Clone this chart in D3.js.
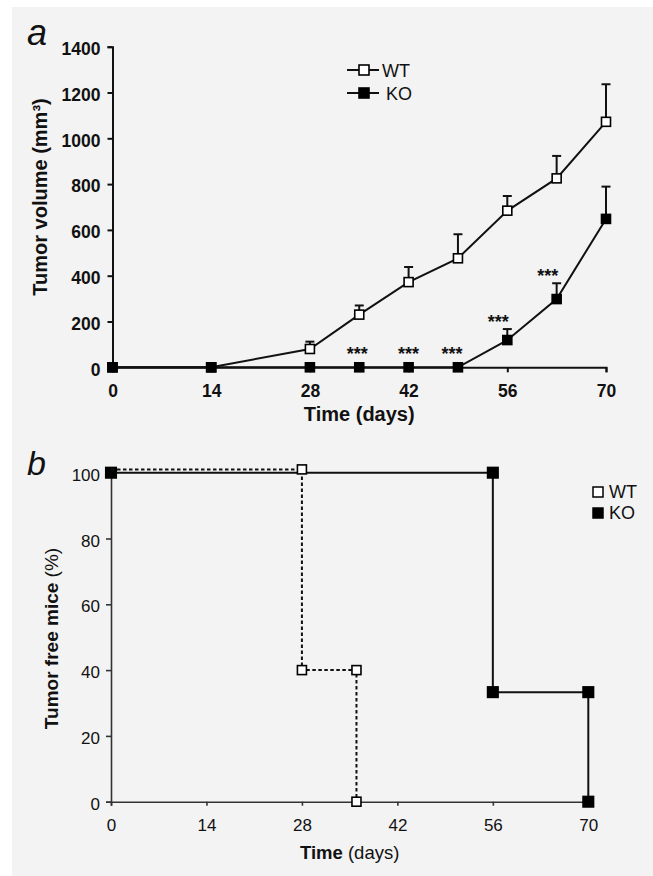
<!DOCTYPE html>
<html><head><meta charset="utf-8">
<script src="https://cdn.jsdelivr.net/npm/d3@7"></script>
<style>
html,body{margin:0;padding:0;background:#fff;}
svg{display:block;font-family:"Liberation Sans",Arial,Helvetica,sans-serif;}
</style></head>
<body>
<svg id="chart" width="653" height="876"></svg>
<script>
// ---------- DATA ----------
// Panel a: tumor volume (mm3) over time (days)
const volDays = [0, 14, 28, 35, 42, 49, 56, 63, 70];
const wtVolume = [0, 0, 80, 230, 372, 476, 684, 825, 1072];
const wtVolumeErr = [0, 0, 32, 40, 66, 105, 64, 98, 164];
const koVolume = [0, 0, 0, 0, 0, 0, 119, 298, 648];
const koVolumeErr = [0, 0, 0, 0, 0, 0, 48, 69, 141];
const sigDays = [35, 42, 49, 56, 63];
const sigLabels = ["***", "***", "***", "***", "***"];
const sigAnchor = [0, 0, 0, 167, 367]; // value (mm3) above which the mark sits
const volXTicks = [0, 14, 28, 42, 56, 70];
const volYTicks = [0, 200, 400, 600, 800, 1000, 1200, 1400];

// Panel b: tumor free mice (%) - step curves
const wtFreeDays = [0, 28, 28, 36, 36];
const wtFreePct = [101, 101, 40, 40, 0];
const wtFreeMarked = [false, true, true, true, true];
const koFreeDays = [0, 56, 56, 70, 70];
const koFreePct = [100, 100, 33.3, 33.3, 0];
const koFreeMarked = [true, true, true, true, true];
const freeXTicks = [0, 14, 28, 42, 56, 70];
const freeYTicks = [0, 20, 40, 60, 80, 100];

const seriesNames = ["WT", "KO"];

// ---------- DRAW ----------
const svg = d3.select("#chart");
svg.append("rect").attr("x", 12).attr("y", 7).attr("width", 641).attr("height", 869).attr("fill", "#f3f3f3");

const FONT = '"Liberation Sans",Arial,Helvetica,sans-serif';

// ===== Panel a =====
const xA = d3.scaleLinear().domain([0, 70]).range([112.5, 606]);
const yA = d3.scaleLinear().domain([0, 1400]).range([367.3, 46.7]);
const gA = svg.append("g");

gA.append("text").attr("x", 27).attr("y", 45).attr("font-size", 36).attr("font-style", "italic").attr("fill", "#111").text("a");

const axAx = gA.append("g").attr("transform", `translate(0,${yA(0)})`)
  .call(d3.axisBottom(xA).tickValues(volXTicks).tickSize(5).tickPadding(12).tickFormat(d3.format("d")));
const axAy = gA.append("g").attr("transform", `translate(${xA(0)},0)`)
  .call(d3.axisLeft(yA).tickValues(volYTicks).tickSize(5).tickPadding(7).tickFormat(d3.format("d")));
[axAx, axAy].forEach(ax => {
  ax.select(".domain").attr("stroke", "#111").attr("stroke-width", 2);
  ax.selectAll(".tick line").attr("stroke", "#111").attr("stroke-width", 2);
  ax.selectAll(".tick text").attr("font-family", FONT).attr("font-size", 17.5).attr("font-weight", "bold").attr("fill", "#111");
});
axAy.selectAll(".tick text").attr("dy", "0.45em");

gA.append("text").attr("x", (xA(0) + xA(70)) / 2).attr("y", 421).attr("text-anchor", "middle")
  .attr("font-size", 20).attr("font-weight", "bold").attr("fill", "#111").text("Time (days)");
gA.append("text").attr("transform", "translate(46.5,197) rotate(-90)").attr("text-anchor", "middle")
  .attr("font-size", 20).attr("font-weight", "bold").attr("fill", "#111")
  .text("Tumor volume (mm³)");

function drawVolSeries(vals, errs, filled) {
  const pts = volDays.map((d, i) => ({ d, v: vals[i], e: errs[i] }));
  const g = gA.append("g");
  g.append("path").datum(pts).attr("fill", "none").attr("stroke", "#111").attr("stroke-width", 2)
    .attr("d", d3.line().x(p => xA(p.d)).y(p => yA(p.v)));
  pts.filter(p => p.e > 0).forEach(p => {
    g.append("line").attr("x1", xA(p.d)).attr("x2", xA(p.d)).attr("y1", yA(p.v)).attr("y2", yA(p.v + p.e))
      .attr("stroke", "#111").attr("stroke-width", 2);
    g.append("line").attr("x1", xA(p.d) - 4.5).attr("x2", xA(p.d) + 4.5).attr("y1", yA(p.v + p.e)).attr("y2", yA(p.v + p.e))
      .attr("stroke", "#111").attr("stroke-width", 2);
  });
  g.selectAll("rect").data(pts).join("rect")
    .attr("x", p => xA(p.d) - 4.5).attr("y", p => yA(p.v) - 4.5).attr("width", 9).attr("height", 9)
    .attr("fill", filled ? "#000" : "#fff").attr("stroke", "#000").attr("stroke-width", 1.6);
}
drawVolSeries(wtVolume, wtVolumeErr, false);
drawVolSeries(koVolume, koVolumeErr, true);

// significance marks
const sigShift = [-2, 0, -6, -9, -9];
const sigRise = [7.3, 7.3, 7.3, 1, 1.3];
sigDays.forEach((d, i) => {
  gA.append("text").attr("x", xA(d) + sigShift[i]).attr("y", yA(sigAnchor[i]) - sigRise[i])
    .attr("text-anchor", "middle").attr("font-size", 18).attr("font-weight", "bold").attr("fill", "#111")
    .text(sigLabels[i]);
});

// legend a
const legA = [{ name: seriesNames[0], y: 70, filled: false, tx: 382 }, { name: seriesNames[1], y: 93, filled: true, tx: 386 }];
legA.forEach(l => {
  gA.append("line").attr("x1", 347).attr("x2", 379).attr("y1", l.y).attr("y2", l.y).attr("stroke", "#111").attr("stroke-width", 2);
  gA.append("rect").attr("x", 364 - 5).attr("y", l.y - 5).attr("width", 10).attr("height", 10)
    .attr("fill", l.filled ? "#000" : "#fff").attr("stroke", "#000").attr("stroke-width", 1.6);
  gA.append("text").attr("x", l.tx).attr("y", l.y + 6.5).attr("font-size", 18).attr("fill", "#111").text(l.name);
});

// ===== Panel b =====
const xB = d3.scaleLinear().domain([0, 70]).range([111, 588.3]);
const yB = d3.scaleLinear().domain([0, 100]).range([801.7, 472.7]);
const gB = svg.append("g");

gB.append("text").attr("x", 27).attr("y", 475).attr("font-size", 34).attr("font-style", "italic").attr("fill", "#111").text("b");

const axBx = gB.append("g").attr("transform", `translate(0,${yB(0)})`)
  .call(d3.axisBottom(xB).tickValues(freeXTicks).tickSize(4).tickPadding(13).tickFormat(d3.format("d")));
const axBy = gB.append("g").attr("transform", `translate(${xB(0)},0)`)
  .call(d3.axisLeft(yB).tickValues(freeYTicks).tickSize(5).tickPadding(6).tickFormat(d3.format("d")));
[axBx, axBy].forEach(ax => {
  ax.select(".domain").attr("stroke", "#333").attr("stroke-width", 1.6);
  ax.selectAll(".tick line").attr("stroke", "#333").attr("stroke-width", 1.6);
  ax.selectAll(".tick text").attr("font-family", FONT).attr("font-size", 17).attr("fill", "#111");
});
axBy.selectAll(".tick text").attr("dy", "0.45em");

const tB = gB.append("text").attr("x", (xB(0) + xB(70)) / 2).attr("y", 859).attr("text-anchor", "middle")
  .attr("font-size", 18.5).attr("fill", "#111");
tB.append("tspan").attr("font-weight", "bold").text("Time");
tB.append("tspan").text(" (days)");
const yTB = gB.append("text").attr("transform", "translate(58,638.5) rotate(-90)").attr("text-anchor", "middle")
  .attr("font-size", 19).attr("fill", "#111");
yTB.append("tspan").attr("font-weight", "bold").text("Tumor free mice");
yTB.append("tspan").text(" (%)");

function drawFree(days, pcts, marked, filled, dashed, size) {
  const pts = days.map((d, i) => ({ d, v: pcts[i], m: marked[i] }));
  const g = gB.append("g");
  g.append("path").datum(pts).attr("fill", "none").attr("stroke", "#111").attr("stroke-width", 2)
    .attr("stroke-dasharray", dashed ? "3.5,2.5" : null)
    .attr("d", d3.line().x(p => xB(p.d)).y(p => yB(p.v)));
  g.selectAll("rect").data(pts.filter(p => p.m)).join("rect")
    .attr("x", p => xB(p.d) - size / 2).attr("y", p => yB(p.v) - size / 2).attr("width", size).attr("height", size)
    .attr("fill", filled ? "#000" : "#fff").attr("stroke", "#000").attr("stroke-width", 1.6);
}
drawFree(koFreeDays, koFreePct, koFreeMarked, true, false, 10.5);
drawFree(wtFreeDays, wtFreePct, wtFreeMarked, false, true, 9);

// legend b
const legB = [{ name: seriesNames[0], y: 492, filled: false }, { name: seriesNames[1], y: 513, filled: true }];
legB.forEach(l => {
  gB.append("rect").attr("x", 593).attr("y", l.y - 5).attr("width", 10).attr("height", 10)
    .attr("fill", l.filled ? "#000" : "#fff").attr("stroke", "#000").attr("stroke-width", 1.5);
  gB.append("text").attr("x", 609).attr("y", l.y + 6).attr("font-size", 18).attr("fill", "#111").text(l.name);
});
</script>
</body></html>
